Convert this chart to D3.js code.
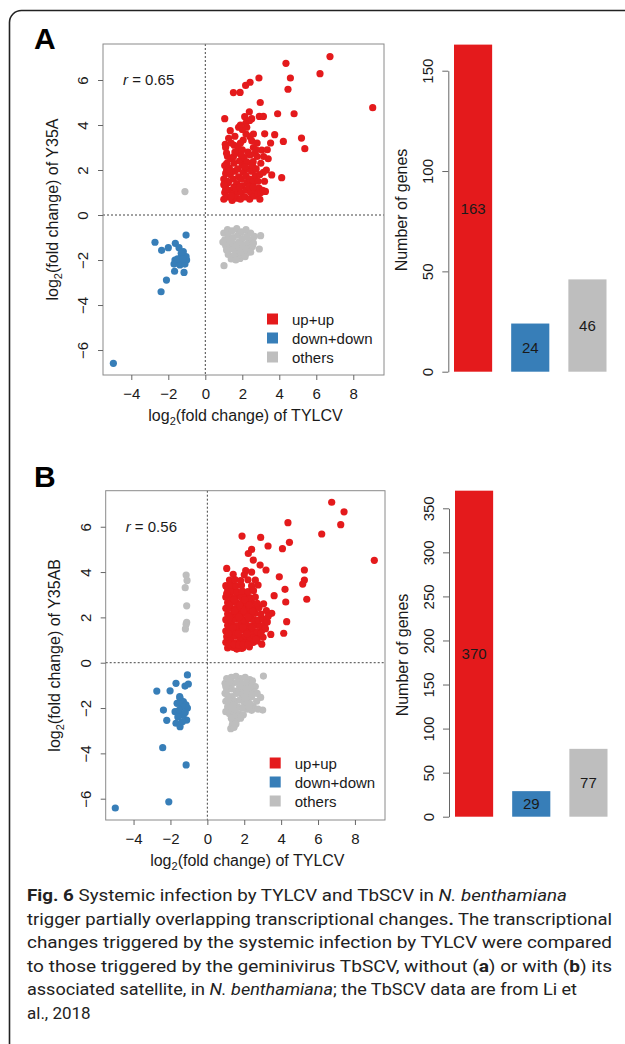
<!DOCTYPE html>
<html>
<head>
<meta charset="utf-8">
<script src="https://cdn.jsdelivr.net/npm/d3@7"></script>
<style>
  body { margin: 0; background: #fff; }
  svg { display: block; }
</style>
</head>
<body>
<script>
// categories and colours
var categories = ["up+up", "down+down", "others"];
var catColors = ["#E41A1C", "#377EB8", "#BEBEBE"];

// gene counts (bar charts)
var countsA = [163, 24, 46];
var countsB = [370, 29, 77];

var rA = "0.65";
var rB = "0.56";

var scatterTicksX = [-4, -2, 0, 2, 4, 6, 8];
var scatterTicksY = [-6, -4, -2, 0, 2, 4, 6];
var barTicksA = [0, 50, 100, 150];
var barTicksB = [0, 50, 100, 150, 200, 250, 300, 350];

// panel A points: [log2FC TYLCV, log2FC Y35A]
var upA = [
  [6.74,7.04],[4.36,6.74],[6.2,6.28],[4.6,6.09],[4.47,5.59],[9.05,4.77],[2.9,6.09],[2.42,5.9],[2.18,5.76],[1.88,5.45],[1.52,5.44],[2.97,5.0],
  [1.05,4.28],[2.13,4.37],[2.38,4.59],[2.51,4.28],[2.92,4.38],[3.14,4.38],[3.91,4.5],[4.8,4.5],[1.8,3.9],[2.24,3.9],[2.2,4.1],[3.21,3.61],
  [3.75,3.57],[1.26,3.41],[2.42,3.48],[2.51,3.3],[2.05,3.33],[4.22,3.27],[5.2,3.42],[5.38,2.95],[3.53,3.2],[1.08,3.14],[1.56,3.1],[1.78,3.0],
  [3.05,2.89],[2.69,2.74],[2.42,2.67],[1.52,2.59],[1.69,2.75],[1.16,2.3],[2.05,2.44],[2.59,2.37],[3.14,1.9],[3.59,1.78],[4.13,1.66],[1.1,1.85],
  [1.0,0.7],[1.05,1.0],[1.1,1.3],[1.0,1.6],[1.15,2.0],[1.05,2.2],[1.2,0.8],[1.3,1.1],[1.25,1.45],[1.35,1.8],[1.3,2.1],[1.4,2.5],
  [1.45,0.65],[1.5,0.95],[1.55,1.25],[1.5,1.6],[1.6,1.95],[1.55,2.3],[1.7,0.75],[1.75,1.05],[1.7,1.4],[1.8,1.7],[1.75,2.05],[1.85,2.4],
  [1.9,0.7],[1.95,1.0],[2.0,1.3],[1.95,1.6],[2.05,1.9],[2.0,2.2],[2.1,2.55],[2.15,0.8],[2.2,1.1],[2.25,1.45],[2.2,1.75],[2.3,2.05],
  [2.25,2.35],[2.4,0.7],[2.45,1.0],[2.5,1.3],[2.4,1.6],[2.5,1.95],[2.55,2.2],[2.65,0.85],[2.7,1.1],[2.6,1.5],[2.7,1.75],[2.75,2.05],
  [2.85,0.95],[2.9,1.2],[2.85,1.5],[3.0,1.0],[3.1,1.1],[2.95,1.8],[1.2,2.6],[1.6,2.8],[2.0,2.9],[2.3,2.8],[2.8,2.6],[2.6,3.0],
  [1.9,3.2],[2.2,3.6],[1.4,3.2],[1.6,3.5],[2.0,3.8],[2.6,3.6],[2.4,4.2],[1.9,4.0],[2.8,3.2],[1.3,1.95],[1.1,1.15],[1.2,1.5],
  [1.0,1.35],[1.65,1.2],[2.35,1.25],[1.85,1.25],[2.6,1.25],[1.4,0.85],[3.2,1.5],[3.3,2.0],[3.0,2.3],[3.4,2.5],[3.35,2.9],[1.15,2.75],
  [1.1,3.0],[2.75,2.9],[2.15,2.15],[1.95,2.65],[3.25,1.05],[2.95,0.7],[3.15,2.6],[1.35,3.75]
];
var downA = [
  [-1.04,-0.89],[-2.72,-1.21],[-2.36,-1.57],[-2.0,-1.45],[-1.62,-1.26],[-1.42,-1.45],[-1.19,-1.63],[-1.28,-1.8],
  [-1.04,-1.85],[-1.64,-2.0],[-1.46,-2.07],[-1.23,-2.07],[-1.01,-2.0],[-1.69,-2.18],[-1.37,-2.22],[-1.1,-2.18],
  [-1.66,-2.5],[-1.15,-2.55],[-2.1,-2.89],[-2.39,-3.41],[-4.97,-6.59],[-1.3,-1.7],[-1.5,-1.95],[-1.2,-1.95]
];
var othersA = [
  [-1.1,1.04],[1.01,-2.25],[2.99,-0.92],[2.92,-1.51],[1.24,-1.75],[1.88,-1.93],[1.7,-1.7],[2.23,-1.7],
  [1.0,-0.8],[1.05,-1.1],[1.1,-1.35],[1.2,-0.65],[1.25,-0.95],[1.3,-1.25],[1.35,-1.5],[1.45,-0.7],
  [1.5,-1.0],[1.55,-1.3],[1.6,-1.55],[1.7,-0.6],[1.75,-0.9],[1.8,-1.2],[1.85,-1.45],[1.95,-0.75],
  [2.0,-1.05],[2.05,-1.35],[2.1,-1.6],[2.2,-0.65],[2.25,-0.95],[2.3,-1.25],[2.35,-1.5],[2.45,-0.8],
  [2.5,-1.1],[2.55,-1.4],[2.0,-1.8],[1.55,-1.8],[1.9,-1.65],[2.15,-1.85],[1.15,-1.55],[2.65,-0.95],
  [1.4,-1.15],[2.6,-1.25],[1.4,-1.95],[2.45,-1.65],[1.65,-2.0],[0.95,-1.2]
];

// panel B points: [log2FC TYLCV, log2FC Y35AB]
var upB = [
  [6.74,7.08],[7.41,6.66],[7.23,6.09],[6.2,5.68],[4.37,6.18],[4.45,5.31],[4.07,5.03],[9.05,4.52],[1.88,5.59],[2.89,5.53],
  [3.29,5.15],[2.4,5.0],[2.22,4.82],[2.49,4.53],[2.86,4.31],[3.18,4.09],[1.05,4.16],[2.08,4.06],[2.4,4.0],[5.26,4.09],
  [5.26,3.65],[5.17,3.47],[5.39,2.8],[3.9,3.79],[4.21,3.24],[4.25,2.68],[3.62,2.96],[4.3,1.81],[4.14,1.3],[3.44,1.25],
  [2.95,0.82],[3.49,2.18],[1.59,0.6],[1.86,0.63],[1.05,3.35],
  [1.1,0.65],[1.4,0.68],[1.62,0.62],[1.93,0.66],[2.28,0.7],
  [1.0,0.9],[1.25,0.92],[1.5,0.88],[1.76,0.93],[2.02,0.9],[2.24,0.95],[2.5,0.9],[2.7,0.96],
  [1.05,1.15],[1.3,1.12],[1.56,1.17],[1.8,1.14],[2.06,1.18],[2.3,1.13],[2.55,1.16],[2.8,1.2],[3.02,1.12],
  [1.0,1.4],[1.2,1.42],[1.46,1.38],[1.7,1.41],[1.95,1.44],[2.2,1.39],[2.44,1.42],[2.7,1.37],[2.96,1.43],
  [1.1,1.65],[1.35,1.67],[1.6,1.63],[1.86,1.66],[2.1,1.68],[2.36,1.62],[2.6,1.66],[2.84,1.64],[3.1,1.68],
  [1.0,1.9],[1.26,1.88],[1.5,1.92],[1.76,1.9],[2.0,1.87],[2.25,1.93],[2.5,1.9],[2.76,1.88],[3.0,1.94],
  [1.1,2.15],[1.35,2.13],[1.6,2.17],[1.85,2.14],[2.1,2.16],[2.35,2.12],[2.6,2.18],[2.9,2.15],
  [1.0,2.4],[1.25,2.42],[1.5,2.38],[1.75,2.41],[2.0,2.43],[2.25,2.39],[2.55,2.4],[2.8,2.44],
  [1.1,2.65],[1.35,2.67],[1.6,2.63],[1.9,2.66],[2.15,2.64],[2.4,2.68],[2.7,2.62],
  [1.0,2.9],[1.25,2.92],[1.5,2.88],[1.8,2.91],[2.05,2.93],[2.3,2.87],[2.6,2.9],
  [1.1,3.15],[1.35,3.17],[1.6,3.13],[1.9,3.16],[2.2,3.14],[2.5,3.18],
  [1.0,3.4],[1.3,3.42],[1.55,3.38],[1.85,3.41],[2.4,3.39],[2.75,3.43],
  [1.2,3.65],[1.5,3.67],[1.8,3.62],[2.2,3.66],[2.6,3.64],
  [1.4,3.9],[2.0,3.88],
  [3.15,1.5],[3.25,1.8],[3.2,2.3],[3.05,2.6],[3.3,2.05],[1.15,1.28],[1.38,1.55],[1.68,1.28],[1.92,1.55],[2.15,1.28],
  [2.42,1.55],[1.2,2.0],[1.48,2.27],[1.72,2.02],[1.96,2.28],[2.22,2.02],[2.45,2.28],[1.18,2.55],[1.45,2.78],[1.75,2.55],
  [2.02,2.78],[2.28,2.55],[1.2,0.78],[1.45,0.8],[1.7,0.78],[1.95,0.8],[2.2,0.8],[2.62,1.03],[2.9,1.3],[1.05,3.05]
];
var downB = [
  [-1.08,-0.54],[-2.74,-1.25],[-2.02,-1.24],[-1.7,-0.91],[-1.21,-1.03],[-1.03,-0.94],[-1.48,-1.57],[-1.3,-1.72],
  [-1.16,-1.86],[-1.08,-2.0],[-2.38,-2.09],[-1.75,-2.16],[-1.48,-2.24],[-1.12,-2.53],[-2.2,-2.54],[-1.7,-2.67],
  [-1.48,-2.82],[-1.39,-1.94],[-1.52,-2.09],[-1.3,-2.31],[-1.64,-1.79],[-2.42,-3.75],[-1.15,-4.51],[-2.09,-6.14],
  [-4.99,-6.41],[-1.5,-1.5],[-1.6,-2.4],[-1.35,-2.6],[-1.2,-2.2]
];
var othersB = [
  [-1.15,3.87],[-1.1,3.63],[-1.2,3.31],[-1.12,2.51],[-1.12,1.78],[-1.15,1.7],[-1.19,1.49],
  [3.04,-0.59],[2.89,-1.53],[3.0,-2.09],[1.27,-2.91],[1.38,-2.6],[1.6,-2.5],[0.96,-0.91],[0.96,-1.35],
  [1.0,-2.16],[2.49,-1.94],[2.67,-1.7],[2.2,-1.6],
  [1.05,-0.7],[1.3,-0.65],[1.55,-0.6],[1.8,-0.7],[2.05,-0.65],[2.3,-0.75],
  [1.15,-0.95],[1.4,-0.9],[1.65,-0.85],[1.9,-0.95],[2.15,-0.9],[2.4,-1.0],[2.6,-1.05],
  [1.05,-1.2],[1.3,-1.15],[1.55,-1.25],[1.85,-1.2],[2.1,-1.15],[2.35,-1.25],[2.55,-1.3],
  [1.1,-1.45],[1.35,-1.5],[1.9,-1.45],[2.15,-1.4],[2.4,-1.5],
  [1.0,-1.7],[1.25,-1.75],[1.5,-1.7],[1.75,-1.65],[2.0,-1.75],[2.3,-1.8],
  [1.1,-1.95],[1.35,-2.0],[1.65,-1.95],[1.9,-2.0],[2.15,-2.05],[2.4,-2.1],
  [1.2,-2.25],[1.45,-2.3],[1.7,-2.25],[1.95,-2.3],
  [1.3,-2.45],[1.55,-2.7],[1.35,-2.75],[1.45,-2.85],
  [2.7,-1.35],[2.75,-2.05],[1.15,-1.6],[1.6,-1.35],[1.75,-1.05],[2.05,-1.55],[1.2,-0.8],[2.45,-0.8],
  [1.5,-2.05],[1.8,-2.45],[2.25,-1.95],[1.0,-1.05],[1.4,-1.85]
];

var font = "Liberation Sans, Arial, Helvetica, sans-serif";
var ink = "#1a1a1a";
var fs = 15;      // ticks, legend, labels
var fsTitle = 16; // axis titles

var svg = d3.select("body").append("svg")
  .attr("width", 625)
  .attr("height", 1044)
  .attr("font-family", font);

// outer frame (rounded corner top-left, runs off page)
svg.append("rect")
  .attr("x", 9.5).attr("y", 10.5)
  .attr("width", 700).attr("height", 1100)
  .attr("rx", 12)
  .attr("fill", "none")
  .attr("stroke", "#222")
  .attr("stroke-width", 1.6);

var drawScatter = function(opt)
{
  var x = d3.scaleLinear().domain(opt.xDomain).range([opt.left, opt.right]);
  var y = d3.scaleLinear().domain(opt.yDomain).range([opt.bottom, opt.top]);
  var g = svg.append("g");

  g.append("line")
    .attr("x1", x(0)).attr("x2", x(0))
    .attr("y1", opt.top).attr("y2", opt.bottom)
    .attr("stroke", "#444").attr("stroke-dasharray", "2,2");
  g.append("line")
    .attr("x1", opt.left).attr("x2", opt.right)
    .attr("y1", y(0)).attr("y2", y(0))
    .attr("stroke", "#444").attr("stroke-dasharray", "2,2");

  opt.series.forEach(function(pts, i)
  {
    g.append("g").selectAll("circle")
      .data(pts)
      .join("circle")
      .attr("cx", d => x(d[0]))
      .attr("cy", d => y(d[1]))
      .attr("r", 3.6)
      .attr("fill", catColors[i]);
  });

  g.append("rect")
    .attr("x", opt.left).attr("y", opt.top)
    .attr("width", opt.right - opt.left)
    .attr("height", opt.bottom - opt.top)
    .attr("fill", "none")
    .attr("stroke", "#8a8a8a");

  var xa = g.append("g")
    .attr("transform", "translate(0," + opt.bottom + ")")
    .call(d3.axisBottom(x).tickValues(scatterTicksX).tickSize(5).tickPadding(8).tickFormat(d3.format("")));
  xa.select(".domain").remove();

  var ya = g.append("g")
    .attr("transform", "translate(" + opt.left + ",0)")
    .call(d3.axisLeft(y).tickValues(scatterTicksY).tickSize(5).tickFormat(d3.format("")));
  ya.select(".domain").remove();
  ya.selectAll("text")
    .attr("x", 0).attr("dy", null)
    .attr("text-anchor", "middle")
    .attr("transform", "translate(-15,0) rotate(-90)");

  [xa, ya].forEach(function(a)
  {
    a.attr("font-family", font).attr("font-size", fs);
    a.selectAll("line").attr("stroke", "#666");
    a.selectAll("text").attr("fill", ink);
  });

  // x title
  var xt = g.append("text")
    .attr("x", (opt.left + opt.right) / 2 + 2)
    .attr("y", opt.bottom + 46)
    .attr("text-anchor", "middle")
    .attr("font-size", fsTitle).attr("fill", ink);
  xt.append("tspan").text("log");
  xt.append("tspan").attr("font-size", 11).attr("dy", 4).text("2");
  xt.append("tspan").attr("dy", -4).text("(fold change) of TYLCV");

  // y title
  var yt = g.append("text")
    .attr("transform", "translate(" + opt.yTitleX + "," + ((opt.top + opt.bottom) / 2) + ") rotate(-90)")
    .attr("text-anchor", "middle")
    .attr("font-size", fsTitle).attr("fill", ink);
  yt.append("tspan").text("log");
  yt.append("tspan").attr("font-size", 11).attr("dy", 4).text("2");
  yt.append("tspan").attr("dy", -4).text("(fold change) of " + opt.yName);

  // r label
  var rt = g.append("text")
    .attr("x", opt.left + 20).attr("y", y(6) + 5)
    .attr("font-size", fs).attr("fill", ink);
  rt.append("tspan").attr("font-style", "italic").text("r");
  rt.append("tspan").text(" = " + opt.r);

  // legend
  var leg = g.append("g").selectAll("g")
    .data(categories)
    .join("g")
    .attr("transform", (d, i) => "translate(" + (opt.left + 164) + "," + (opt.legendY + i * 19) + ")");
  leg.append("rect")
    .attr("x", 0).attr("y", -5.5)
    .attr("width", 11).attr("height", 11)
    .attr("fill", (d, i) => catColors[i]);
  leg.append("text")
    .attr("x", 25).attr("y", 5.5)
    .attr("font-size", fs).attr("fill", ink)
    .text(d => d);

  // panel letter
  svg.append("text")
    .attr("x", 34).attr("y", opt.letterY)
    .attr("font-size", 30).attr("font-weight", "bold").attr("fill", "#000")
    .text(opt.letter);
}

var drawBars = function(opt)
{
  var x = d3.scaleBand().domain(categories).range([opt.x0, opt.x1]).paddingInner(0.333).paddingOuter(0);
  var y = d3.scaleLinear().domain([0, d3.max(opt.ticks)]).range([opt.y0, opt.yMaxTick]);
  var g = svg.append("g");

  g.selectAll("rect")
    .data(opt.counts)
    .join("rect")
    .attr("x", (d, i) => x(categories[i]))
    .attr("width", x.bandwidth())
    .attr("y", d => y(d))
    .attr("height", d => y(0) - y(d))
    .attr("fill", (d, i) => catColors[i]);

  g.selectAll("text.val")
    .data(opt.counts)
    .join("text")
    .attr("class", "val")
    .attr("x", (d, i) => x(categories[i]) + x.bandwidth() / 2)
    .attr("y", d => y(d / 2) + 5.5)
    .attr("text-anchor", "middle")
    .attr("font-size", fs).attr("fill", ink)
    .text(d => d);

  var ya = g.append("g")
    .attr("transform", "translate(" + opt.axisX + ",0)")
    .call(d3.axisLeft(y).tickValues(opt.ticks).tickSize(6).tickSizeOuter(0));
  ya.attr("font-family", font).attr("font-size", fs);
  ya.select(".domain").attr("stroke", "#666");
  ya.selectAll("line").attr("stroke", "#666");
  ya.selectAll("text")
    .attr("x", 0).attr("dy", null)
    .attr("text-anchor", "middle")
    .attr("transform", "translate(-15.5,0) rotate(-90)")
    .attr("fill", ink);

  g.append("text")
    .attr("transform", "translate(" + (opt.axisX - 41.5) + "," + opt.titleY + ") rotate(-90)")
    .attr("text-anchor", "middle")
    .attr("font-size", fsTitle).attr("fill", ink)
    .text("Number of genes");
}

drawScatter({
  letter: "A", letterY: 49,
  left: 103, right: 384, top: 44, bottom: 375,
  xDomain: [-5.53, 9.66], yDomain: [-7.11, 7.6],
  series: [upA, downA, othersA],
  yName: "Y35A", yTitleX: 58, r: rA, legendY: 319
});
drawBars({
  counts: countsA, ticks: barTicksA,
  axisX: 448.3, y0: 371.7, yMaxTick: 70.7, x0: 454, x1: 606.5, titleY: 210
});

drawScatter({
  letter: "B", letterY: 487,
  left: 105.7, right: 385, top: 490.7, bottom: 820,
  xDomain: [-5.51, 9.63], yDomain: [-6.94, 7.59],
  series: [upB, downB, othersB],
  yName: "Y35AB", yTitleX: 60, r: rB, legendY: 763
});
drawBars({
  counts: countsB, ticks: barTicksB,
  axisX: 449, y0: 816.7, yMaxTick: 508.3, x0: 455, x1: 607.5, titleY: 655
});

// caption
var captionLines = [
  [["b", "Fig. 6"], ["", " Systemic infection by TYLCV and TbSCV in "], ["i", "N. benthamiana"]],
  [["", "trigger partially overlapping transcriptional changes"], ["b", "."], ["", " The transcriptional"]],
  [["", "changes triggered by the systemic infection by TYLCV were compared"]],
  [["", "to those triggered by the geminivirus TbSCV, without ("], ["b", "a"], ["", ") or with ("], ["b", "b"], ["", ") its"]],
  [["", "associated satellite, in "], ["i", "N. benthamiana"], ["", "; the TbSCV data are from Li et"]],
  [["", "al., 2018"]]
];
var captionWidths = [540, 585, 585, 585, 550, null];

var cap = svg.append("g")
  .attr("font-family", "Liberation Sans Narrow, Roboto, Noto Sans, sans-serif")
  .attr("font-size", 17)
  .attr("fill", "#222");

captionLines.forEach(function(line, i)
{
  var t = cap.append("text")
    .attr("x", 27)
    .attr("y", 901 + i * 23.5)
    .attr("xml:space", "preserve");
  if (captionWidths[i]) {
    t.attr("textLength", captionWidths[i]).attr("lengthAdjust", "spacingAndGlyphs");
  }
  line.forEach(function(seg)
  {
    var s = t.append("tspan").text(seg[1]);
    if (seg[0] == "b") s.attr("font-weight", "bold");
    if (seg[0] == "i") s.attr("font-style", "italic");
  });
});
</script>
</body>
</html>
